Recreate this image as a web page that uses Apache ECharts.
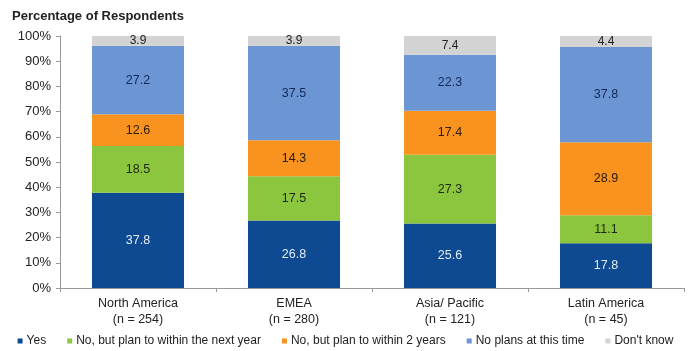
<!DOCTYPE html>
<html>
<head>
<meta charset="utf-8">
<script src="https://cdn.jsdelivr.net/npm/echarts@6/dist/echarts.min.js"></script>
<style>
  html, body { margin: 0; padding: 0; background: #fff; }
  #chart { width: 691px; height: 351px; }
</style>
</head>
<body>
<div id="chart"></div>
<script>
const regions = ['North America\n(n = 254)', 'EMEA\n(n = 280)', 'Asia/ Pacific\n(n = 121)', 'Latin America\n(n = 45)']
const yes = [37.8, 26.8, 25.6, 17.8]
const nextYear = [18.5, 17.5, 27.3, 11.1]
const twoYears = [12.6, 14.3, 17.4, 28.9]
const noPlans = [27.2, 37.5, 22.3, 37.8]
const dontKnow = [3.9, 3.9, 7.4, 4.4]

const font = 'Liberation Sans, Arial, sans-serif'
const chart = echarts.init(document.getElementById('chart'))

function bar(name, data, color, labelColor, fontSize) {
  return {
    name: name,
    type: 'bar',
    stack: 'total',
    barWidth: '59%',
    data: data,
    itemStyle: { color: color },
    label: {
      show: true,
      position: 'inside',
      color: labelColor,
      fontFamily: font,
      fontSize: fontSize || 12.5,
      formatter: p => p.value.toFixed(1)
    }
  }
}

chart.setOption({
  animation: false,
  backgroundColor: '#fff',
  title: {
    text: 'Percentage of Respondents',
    left: 7,
    top: 5,
    textStyle: { fontFamily: font, fontSize: 13, fontWeight: 'bold', color: '#222' }
  },
  grid: { left: 60, right: 7, top: 36, bottom: 63 },
  legend: {
    bottom: 4,
    left: 'center',
    padding: 0,
    icon: 'rect',
    itemWidth: 5,
    itemHeight: 5,
    itemGap: 21,
    textStyle: { fontFamily: font, fontSize: 12, color: '#222', padding: [0, 0, 0, -1] },
    data: ['Yes', 'No, but plan to within the next year', 'No, but plan to within 2 years', 'No plans at this time', "Don't know"]
  },
  xAxis: {
    type: 'category',
    data: regions,
    axisLine: { lineStyle: { color: '#999' } },
    axisTick: { show: true, length: 4, lineStyle: { color: '#999' } },
    axisLabel: { fontFamily: font, fontSize: 12.5, color: '#222', lineHeight: 16, margin: 8 }
  },
  yAxis: {
    type: 'value',
    min: 0,
    max: 100,
    interval: 10,
    splitLine: { show: false },
    axisLine: { show: true, lineStyle: { color: '#999' } },
    axisTick: { show: true, length: 4, lineStyle: { color: '#999' } },
    axisLabel: { fontFamily: font, fontSize: 13, color: '#222', formatter: '{value}%', margin: 9 }
  },
  series: [
    bar('Yes', yes, '#0e4a92', '#e4ebf5'),
    bar('No, but plan to within the next year', nextYear, '#8cc63e', '#1e2a10'),
    bar('No, but plan to within 2 years', twoYears, '#f7931e', '#2a1a08'),
    bar('No plans at this time', noPlans, '#6b96d3', '#13295a'),
    bar("Don't know", dontKnow, '#d3d3d3', '#222', 12)
  ]
})
</script>
</body>
</html>
